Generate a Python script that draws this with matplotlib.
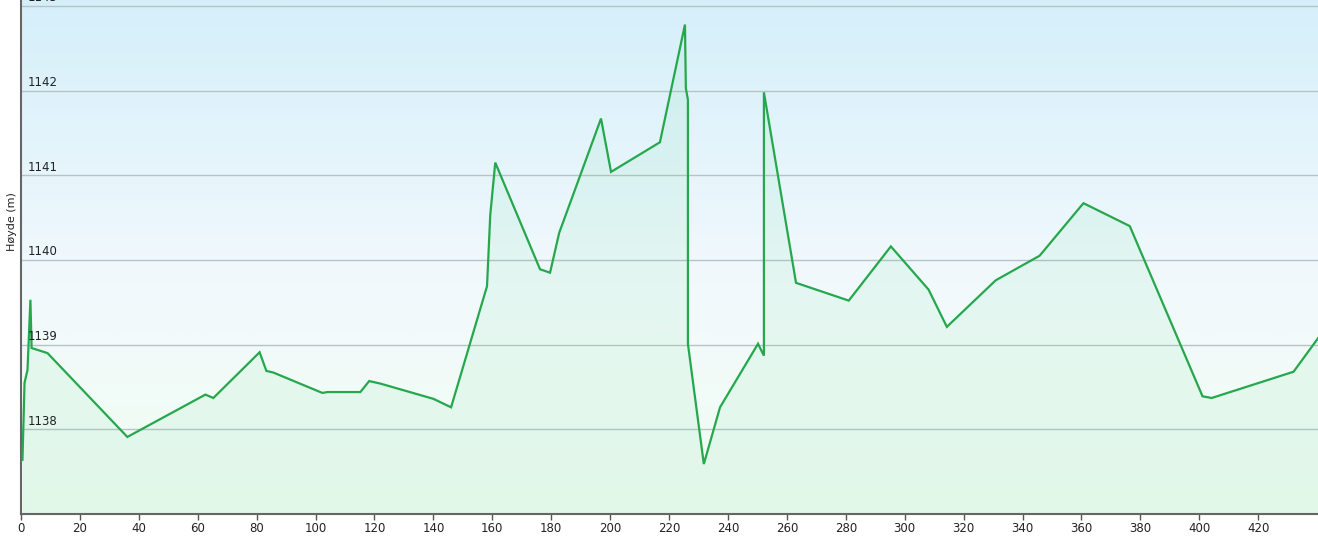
import numpy as np
import matplotlib
matplotlib.use("Agg")
import matplotlib.pyplot as plt
from matplotlib.colors import LinearSegmentedColormap
from matplotlib.transforms import blended_transform_factory

# Data (distance in m, elevation in m)
distance = [0.5, 1.2, 2.2, 3.2, 3.6, 9.0, 36.1, 62.6, 65.3, 81.0, 83.3, 85.7,
            102.3, 104.0, 115.2, 118.2, 122.0, 140.0, 146.0, 158.2, 159.3, 161.0,
            176.2, 179.6, 182.7, 196.9, 200.3, 216.9, 225.4, 225.7, 226.4, 226.4,
            231.8, 237.3, 250.2, 252.2, 252.2, 263.1, 281.0, 295.3, 308.1, 314.3,
            330.9, 345.8, 359.7, 360.7, 376.4, 401.1, 404.2, 432.0, 440.4]
elevation = [1137.64, 1138.55, 1138.70, 1139.53, 1138.96, 1138.90, 1137.91, 1138.41,
             1138.37, 1138.91, 1138.69, 1138.67, 1138.43, 1138.44, 1138.44, 1138.57,
             1138.54, 1138.36, 1138.26, 1139.69, 1140.53, 1141.15, 1139.89, 1139.85,
             1140.32, 1141.67, 1141.04, 1141.39, 1142.78, 1142.03, 1141.89, 1139.01,
             1137.59, 1138.26, 1139.01, 1138.87, 1141.98, 1139.73, 1139.52, 1140.16,
             1139.65, 1139.21, 1139.76, 1140.05, 1140.63, 1140.67, 1140.40, 1138.39,
             1138.37, 1138.68, 1139.08]
x_ticks = list(range(0, 440, 20))
y_ticks = [1138, 1139, 1140, 1141, 1142, 1143]
y_label = "Høyde (m)"

W, H = 1318, 536
fig = plt.figure(figsize=(W / 100, H / 100), dpi=100)
ax = fig.add_axes([21 / W, (H - 514) / H, (W - 21) / W, 514 / H])

xmin, xmax = 0, 440.3
ymin, ymax = 1137.0, 1143.07
ax.set_xlim(xmin, xmax)
ax.set_ylim(ymin, ymax)

# background gradient: light blue at top -> near white -> light green at bottom
bg = LinearSegmentedColormap.from_list(
    "bg", [(0.0, "#effcf2"), (0.25, "#f2fbf8"), (0.45, "#f2f9fd"), (1.0, "#d5effa")])
grad = np.linspace(0, 1, 256).reshape(-1, 1)
ax.imshow(grad, aspect="auto", cmap=bg, origin="lower",
          extent=[xmin, xmax, ymin, ymax], zorder=0)

# grid
for yv in y_ticks:
    ax.axhline(yv, color="#b9c3c6", lw=1.0, zorder=1)

# fill under line
ax.fill_between(distance, elevation, ymin, color="#2fd06a", alpha=0.07, lw=0, zorder=2)
ax.plot(distance, elevation, color="#25a84c", lw=1.6, zorder=3, solid_joinstyle="miter")

# y tick labels inside plot
trans = blended_transform_factory(ax.transAxes, ax.transData)
for yv in y_ticks:
    ax.text(7 / (W - 21), yv + 0.02, str(yv), transform=trans, fontsize=8.5,
            ha="left", va="bottom", color="#222222", zorder=4)
ax.set_yticks([])

ax.set_xticks(x_ticks)
ax.set_xticklabels([str(v) for v in x_ticks], fontsize=8.5, color="#222222")
ax.tick_params(axis="x", direction="out", length=4, width=1, color="#555555", pad=2)

for s in ["top", "right"]:
    ax.spines[s].set_visible(False)
for s in ["left", "bottom"]:
    ax.spines[s].set_color("#666666")
    ax.spines[s].set_linewidth(1.5)

fig.text(12 / W, 1 - 222 / H, y_label, rotation=90, fontsize=8, ha="center",
         va="center", color="#222222")

fig.savefig("out.png", dpi=100)
